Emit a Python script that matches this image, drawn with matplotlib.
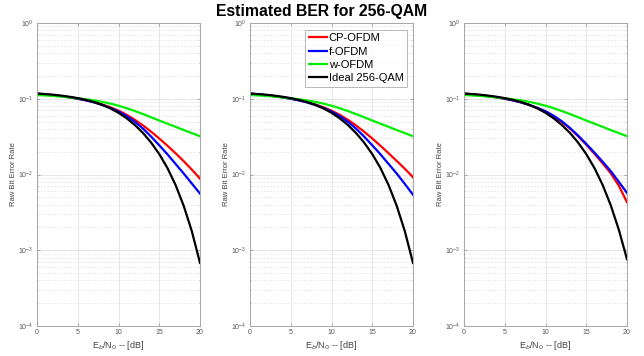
import matplotlib
matplotlib.use("Agg")
import matplotlib.pyplot as plt
from matplotlib.ticker import LogLocator, NullFormatter

plt.rcParams['font.family'] = ['Liberation Sans', 'DejaVu Sans']

ebno = list(range(0, 21))

# Panel 1
cp1 = [0.117, 0.1143, 0.1114, 0.1081, 0.1045, 0.100, 0.0955, 0.0902, 0.0841, 0.0773, 0.0697,
       0.0614, 0.0528, 0.0445, 0.0367, 0.0299, 0.0240, 0.0191, 0.0150, 0.0116, 0.0088]
f1 = [0.117, 0.1143, 0.1114, 0.1081, 0.1045, 0.100, 0.0953, 0.0895, 0.0830, 0.0757, 0.0678,
      0.0590, 0.0497, 0.0404, 0.0317, 0.0243, 0.0185, 0.0138, 0.0103, 0.0076, 0.0056]
w1 = [0.1119, 0.1107, 0.1089, 0.1067, 0.1040, 0.1012, 0.0984, 0.0951, 0.0910, 0.0863, 0.0809,
      0.0750, 0.0689, 0.0628, 0.0570, 0.0516, 0.0469, 0.0426, 0.0386, 0.0352, 0.0320]
ideal1 = [0.1169, 0.1153, 0.1130, 0.1099, 0.1062, 0.1019, 0.0966, 0.0904, 0.0830, 0.0746, 0.0653,
          0.0552, 0.0451, 0.0354, 0.0264, 0.0186, 0.0122, 0.00728, 0.00386, 0.00178, 0.00068]

# Panel 2
cp2 = [0.117, 0.1143, 0.1114, 0.1081, 0.1045, 0.100, 0.0955, 0.0902, 0.0841, 0.0773, 0.0697,
       0.0614, 0.0528, 0.0445, 0.0367, 0.0299, 0.0240, 0.0191, 0.0151, 0.0119, 0.0092]
f2 = [0.117, 0.1143, 0.1114, 0.1081, 0.1045, 0.100, 0.0953, 0.0895, 0.0830, 0.0757, 0.0678,
      0.0590, 0.0497, 0.0404, 0.0317, 0.0243, 0.0185, 0.0138, 0.0103, 0.0075, 0.0054]
w2 = [0.1119, 0.1107, 0.1089, 0.1067, 0.1040, 0.1012, 0.0984, 0.0951, 0.0910, 0.0863, 0.0809,
      0.0750, 0.0689, 0.0628, 0.0570, 0.0516, 0.0469, 0.0426, 0.0386, 0.0352, 0.0320]
ideal2 = [0.1169, 0.1153, 0.1130, 0.1099, 0.1062, 0.1019, 0.0966, 0.0904, 0.0830, 0.0746, 0.0653,
          0.0552, 0.0451, 0.0354, 0.0264, 0.0186, 0.0122, 0.00728, 0.00386, 0.00178, 0.00068]

# Panel 3
cp3 = [0.117, 0.1143, 0.1114, 0.1081, 0.1045, 0.100, 0.0953, 0.0895, 0.0830, 0.0757, 0.0679,
       0.0589, 0.0495, 0.0405, 0.0320, 0.0247, 0.0188, 0.0141, 0.0104, 0.0071, 0.0043]
f3 = [0.117, 0.1143, 0.1114, 0.1081, 0.1045, 0.100, 0.0953, 0.0895, 0.0830, 0.0757, 0.0684,
      0.0596, 0.0504, 0.0412, 0.0327, 0.0254, 0.0195, 0.0148, 0.0111, 0.0080, 0.0057]
w3 = [0.1119, 0.1107, 0.1089, 0.1067, 0.1040, 0.1012, 0.0984, 0.0951, 0.0910, 0.0863, 0.0809,
      0.0750, 0.0689, 0.0628, 0.0570, 0.0516, 0.0469, 0.0426, 0.0386, 0.0352, 0.0320]
ideal3 = [0.1169, 0.1153, 0.1130, 0.1099, 0.1062, 0.1019, 0.0966, 0.0904, 0.0830, 0.0746, 0.0653,
          0.0552, 0.0451, 0.0354, 0.0264, 0.0186, 0.0122, 0.00733, 0.00394, 0.00186, 0.00076]

labels = ['CP-OFDM', 'f-OFDM', 'w-OFDM', 'Ideal 256-QAM']
colors = ['#ff0000', '#0000ff', '#00ee00', '#000000']
panels = [(cp1, f1, w1, ideal1), (cp2, f2, w2, ideal2), (cp3, f3, w3, ideal3)]

fig = plt.figure(figsize=(6.44, 3.56), dpi=100)
lefts = [37 / 644, 250 / 644, 464 / 644]
bottom = 1 - 326 / 356
height = (326 - 23) / 356
width = 163 / 644

axes = []
for i, data in enumerate(panels):
    ax = fig.add_axes([lefts[i], bottom, width, height])
    for series, lab, col in zip(data, labels, colors):
        ax.semilogy(ebno, series, color=col, lw=1.6, label=lab)
    ax.set_xlim(0, 20)
    ax.set_ylim(1e-4, 1)
    ax.set_xticks([0, 5, 10, 15, 20])
    ax.yaxis.set_major_locator(LogLocator(base=10, numticks=10))
    ax.yaxis.set_minor_locator(LogLocator(base=10, subs=range(2, 10), numticks=20))
    ax.yaxis.set_minor_formatter(NullFormatter())
    ax.grid(True, which='major', color='#e3e3e3', lw=0.6)
    ax.grid(True, which='minor', axis='y', color='#e3e3e3', lw=0.6, ls=(0, (2, 2)))
    ax.set_axisbelow(True)
    for sp in ax.spines.values():
        sp.set_color('#a8a8a8')
        sp.set_linewidth(0.7)
    ax.tick_params(which='both', direction='in', length=2, color='#a8a8a8',
                   labelsize=5, labelcolor='#555555', top=True, right=True, pad=2.5)
    ax.tick_params(which='minor', length=1)
    ax.set_xlabel(r'E$_b$/N$_0$ -- [dB]', fontsize=6.5, color='#444444', labelpad=2)
    ax.set_ylabel('Raw Bit Error Rate', fontsize=5.5, color='#444444')
    ax.yaxis.set_label_coords(-0.125, 0.5)
    axes.append(ax)

leg = axes[1].legend(loc='upper right', fontsize=8, frameon=True, fancybox=False,
                     edgecolor='#a8a8a8', handlelength=1.6, handletextpad=0.2,
                     labelspacing=0.3, borderpad=0.3, borderaxespad=0.0,
                     bbox_to_anchor=(0.963, 0.977))
leg.get_frame().set_linewidth(0.7)

fig.text(0.5, 0.967, 'Estimated BER for 256-QAM', ha='center', va='center',
         fontsize=11.3, fontweight='bold')

fig.savefig('out.png', dpi=100)
